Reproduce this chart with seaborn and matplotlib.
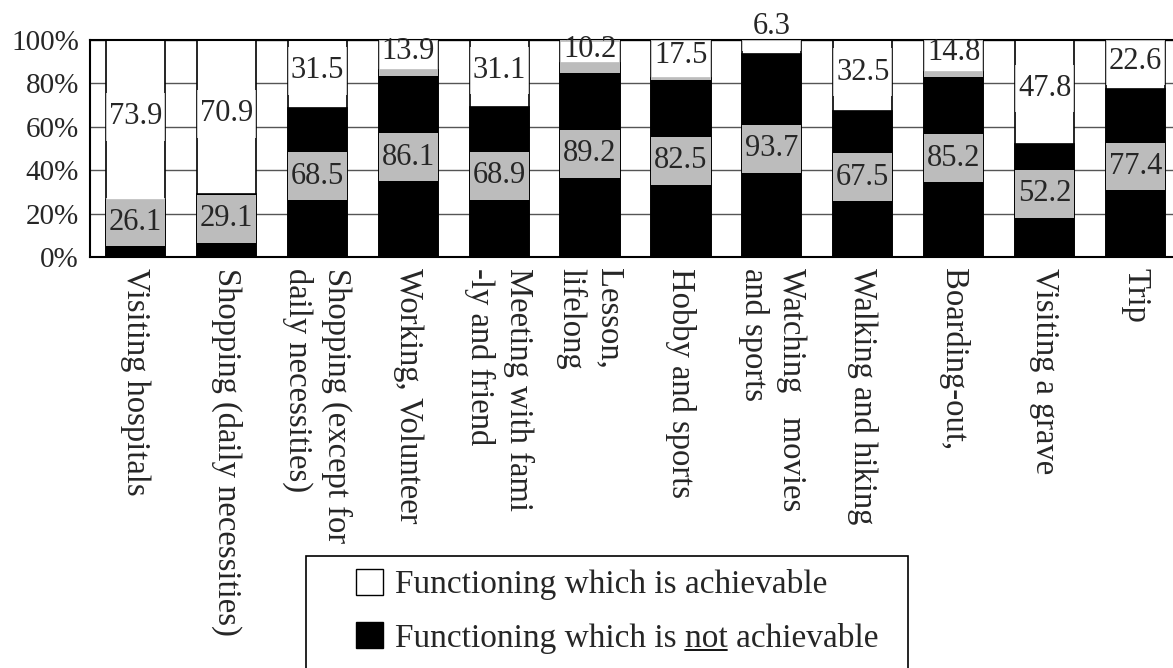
import numpy as np
import pandas as pd
import seaborn as sns
from matplotlib import pyplot as plt
from matplotlib.patches import Patch, Rectangle
from matplotlib.lines import Line2D

activities = [
    "Visiting hospitals",
    "Shopping (daily necessities)",
    "Shopping (except for\ndaily necessities)",
    "Working, Volunteer",
    "Meeting with fami\n-ly and friend",
    "Lesson,\nlifelong",
    "Hobby and sports",
    "Watching   movies\nand sports",
    "Walking and hiking",
    "Boarding-out,",
    "Visiting a grave",
    "Trip",
]
achievable = [73.9, 70.9, 31.5, 13.9, 31.1, 10.2, 17.5, 6.3, 32.5, 14.8, 47.8, 22.6]
not_achievable = [26.1, 29.1, 68.5, 86.1, 68.9, 89.2, 82.5, 93.7, 67.5, 85.2, 52.2, 77.4]
y_ticks = [0, 20, 40, 60, 80, 100]
legend_labels = ["Functioning which is achievable", "Functioning which is not achievable"]

sns.set_style("white")
plt.rcParams["font.family"] = ["Liberation Serif", "DejaVu Serif"]

df = pd.DataFrame({
    "activity": activities,
    "achievable": achievable,
    "not_achievable": not_achievable,
})
df["total"] = df["achievable"] + df["not_achievable"]

fig = plt.figure(figsize=(11.73, 6.68), dpi=100)
ax = fig.add_axes([90 / 1173, 1 - 257 / 668, 1091 / 1173, 217 / 668])

bar_w = 0.65
# white = achievable (stacked on top), black = not achievable
sns.barplot(data=df, x="activity", y="total", color="white", edgecolor="black",
            linewidth=1.2, width=bar_w, saturation=1, ax=ax, zorder=2)
sns.barplot(data=df, x="activity", y="not_achievable", color="black", edgecolor="black",
            linewidth=1.2, width=bar_w, saturation=1, ax=ax, zorder=2)

# value labels with a dotted-white backing box (grey over black)
box_h = 22
for i, (a, n) in enumerate(zip(df["achievable"], df["not_achievable"])):
    y_n = n / 2 + 3
    if a < 8:
        y_a = n + a + 6
    else:
        y_a = n + a / 2 + 1.5
    for val, yy in ((n, y_n), (a, y_a)):
        ax.bar(i, box_h, bottom=yy - box_h / 2, width=bar_w, color="white",
               alpha=0.74, linewidth=0, zorder=3)
        ax.text(i, yy, f"{val:.1f}", ha="center", va="center", fontsize=22,
                zorder=4, clip_on=False)

ax.set_ylim(0, 100)
ax.set_xlim(-0.5, len(activities) - 0.5)
ax.set_yticks(y_ticks)
ax.set_yticklabels([f"{t}%" for t in y_ticks], fontsize=21)
ax.set_xticks(range(len(activities)))
ax.set_xticklabels(activities, rotation=270, ha="center", va="top",
                   multialignment="left", linespacing=1.3, fontsize=23.5)
ax.set_xticks(np.arange(0.5, len(activities) - 0.5, 1), minor=True)
ax.tick_params(axis="x", which="major", length=0, pad=8)
ax.tick_params(axis="x", which="minor", direction="in", length=5, width=1, color="black")
ax.tick_params(axis="y", length=0, pad=8)
ax.set_xlabel("")
ax.set_ylabel("")

ax.yaxis.grid(True, color="#555555", linewidth=1)
ax.set_axisbelow(True)
for side in ("left", "bottom", "top"):
    ax.spines[side].set_color("black")
    ax.spines[side].set_linewidth(1.5)
ax.spines["right"].set_visible(False)

# legend
handles = [Patch(facecolor="white", edgecolor="black", linewidth=1),
           Patch(facecolor="black", edgecolor="black", linewidth=1)]
leg = fig.legend(handles, legend_labels, loc="upper left",
                 bbox_to_anchor=(356 / 1173, 1 - 569 / 668), frameon=False,
                 fontsize=24, handlelength=0.8, handleheight=0.8,
                 handletextpad=0.36, labelspacing=0.66, borderpad=0,
                 borderaxespad=0)
fig.add_artist(Rectangle((306 / 1173, -0.05), (908 - 306) / 1173, 1 - 556 / 668 + 0.05,
                         transform=fig.transFigure, fill=False, edgecolor="black",
                         linewidth=1.2))

# underline "not" in the second legend entry
fig.canvas.draw()
renderer = fig.canvas.get_renderer()
txt = leg.get_texts()[1]
bb = txt.get_window_extent(renderer)
prop = txt.get_fontproperties()
w_pre, _, _ = renderer.get_text_width_height_descent("Functioning which is not", prop, ismath=False)
w_not, _, _ = renderer.get_text_width_height_descent("not", prop, ismath=False)
_, _, d_full = renderer.get_text_width_height_descent(txt.get_text(), prop, ismath=False)
base = bb.y0 + d_full
uy = base - 0.09 * prop.get_size_in_points() * fig.dpi / 72
inv = fig.transFigure.inverted()
(x0f, yf), (x1f, _) = inv.transform([(bb.x0 + w_pre - w_not, uy), (bb.x0 + w_pre, uy)])
fig.add_artist(Line2D([x0f, x1f], [yf, yf], transform=fig.transFigure,
                      color="black", linewidth=1.3))

fig.savefig("out.png", dpi=100)
